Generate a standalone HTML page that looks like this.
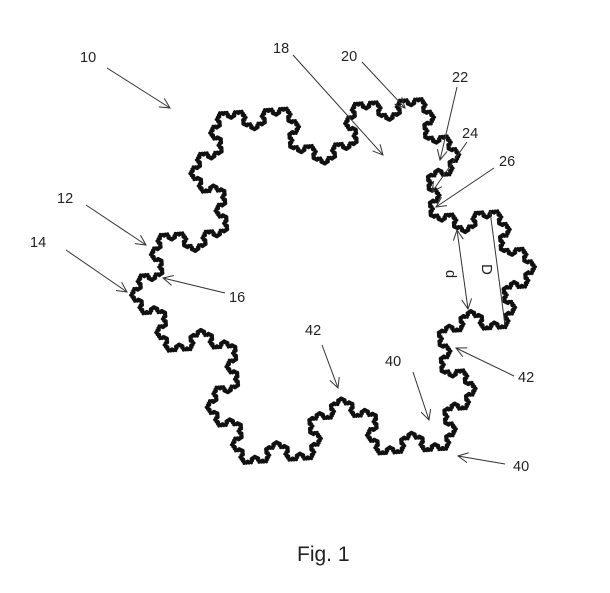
<!DOCTYPE html>
<html><head><meta charset="utf-8">
<style>
html,body{margin:0;padding:0;background:#fff;}
svg{display:block;}
text{font-family:"Liberation Sans",sans-serif;font-size:14.5px;fill:#222;}
</style></head>
<body>
<svg id="s" width="610" height="593" viewBox="0 0 610 593" xmlns="http://www.w3.org/2000/svg">
<defs>
<marker id="a" markerWidth="12" markerHeight="12" refX="11" refY="6" orient="auto" markerUnits="userSpaceOnUse">
<path d="M1,1 L11,6 L1,11" fill="none" stroke="#333" stroke-width="1"/>
</marker>
<marker id="b" markerWidth="12" markerHeight="12" refX="1" refY="6" orient="auto" markerUnits="userSpaceOnUse">
<path d="M11,1 L1,6 L11,11" fill="none" stroke="#333" stroke-width="1"/>
</marker>
</defs>
<path id="k" fill="none" stroke="#111" stroke-width="3" stroke-linejoin="round"/>
<g stroke="#333" stroke-width="1" fill="none" marker-end="url(#a)">
<line x1="107" y1="68" x2="170" y2="108"/>
<line x1="293" y1="55" x2="383" y2="155"/>
<line x1="362" y1="62" x2="405" y2="108"/>
<line x1="457" y1="87" x2="440" y2="160"/>
<line x1="467" y1="142" x2="432" y2="192"/>
<line x1="494" y1="168" x2="436" y2="207"/>
<line x1="86" y1="205" x2="146" y2="245"/>
<line x1="66" y1="250" x2="127" y2="292"/>
<line x1="225" y1="293" x2="163" y2="278"/>
<line x1="322" y1="345" x2="338" y2="388"/>
<line x1="413" y1="372" x2="429" y2="420"/>
<line x1="514" y1="376" x2="456" y2="348"/>
<line x1="505" y1="464" x2="458" y2="456"/>
<line x1="457" y1="230" x2="468" y2="309" marker-start="url(#b)"/>
<line x1="490" y1="211" x2="505" y2="325" marker-end="none"/>
</g>
<text x="80" y="62">10</text>
<text x="273" y="53">18</text>
<text x="341" y="61">20</text>
<text x="452" y="82">22</text>
<text x="462" y="138">24</text>
<text x="499" y="166">26</text>
<text x="57" y="203">12</text>
<text x="30" y="247">14</text>
<text x="229" y="302">16</text>
<text x="305" y="335">42</text>
<text x="385" y="366">40</text>
<text x="518" y="382">42</text>
<text x="513" y="471">40</text>
<text transform="translate(446,270) rotate(90)">d</text>
<text transform="translate(482,264) rotate(90)" style="font-size:15px">D</text>
<text x="297" y="561" style="font-size:21px">Fig. 1</text>
</svg>
<script>
(function(){
var cx=333,cy=281,r=203,rot=4*Math.PI/180,pts=[];
for(var i=0;i<3;i++){var t=i*2*Math.PI/3+rot;pts.push([cx+r*Math.cos(t),cy-r*Math.sin(t)]);}
function koch(a,b,n,out){
 if(n==0){out.push(b);return;}
 var dx=(b[0]-a[0])/3,dy=(b[1]-a[1])/3;
 var p1=[a[0]+dx,a[1]+dy],p3=[a[0]+2*dx,a[1]+2*dy];
 var c=Math.cos(Math.PI/3),s=Math.sin(Math.PI/3);
 var p2=[p1[0]+dx*c-dy*s,p1[1]+dx*s+dy*c];
 koch(a,p1,n-1,out);koch(p1,p2,n-1,out);koch(p2,p3,n-1,out);koch(p3,b,n-1,out);
}
var out=[pts[0]];
for(var i=0;i<3;i++)koch(pts[i],pts[(i+1)%3],5,out);
var d="M"+out.map(function(p){return p[0].toFixed(1)+","+p[1].toFixed(1);}).join("L")+"Z";
document.getElementById("k").setAttribute("d",d);
})();
</script>
</body></html>
